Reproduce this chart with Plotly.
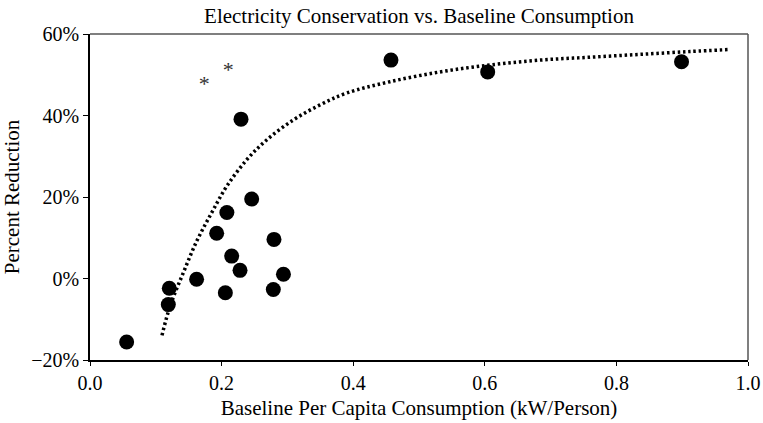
import plotly.graph_objects as go

# Observed data points (baseline kW/person, % reduction)
x_pts = [0.0557, 0.1205, 0.119, 0.162, 0.1925, 0.208, 0.2153, 0.228, 0.2057,
         0.2796, 0.2786, 0.294, 0.2295, 0.2457, 0.4574, 0.6044, 0.899]
y_pts = [-15.6, -2.4, -6.4, -0.2, 11.1, 16.2, 5.5, 2.0, -3.5,
         9.6, -2.7, 1.05, 39.1, 19.5, 53.6, 50.7, 53.2]

# Asterisk points
x_ast = [0.1737, 0.2102]
y_ast = [47.4, 50.7]

# Trend line points
x_trend = [0.1094, 0.1216, 0.1418, 0.162, 0.1848, 0.2077, 0.238, 0.2685, 0.309,
           0.3495, 0.39, 0.456, 0.532, 0.608, 0.684, 0.76, 0.836, 0.912, 0.973]
y_trend = [-13.95, -6.8, 1.4, 9.1, 16.1, 22.6, 29.1, 34.0, 38.9,
           42.6, 45.5, 48.3, 50.7, 52.4, 53.6, 54.3, 55.0, 55.7, 56.2]

x_ticks = [0.0, 0.2, 0.4, 0.6, 0.8, 1.0]
x_tick_labels = ["0.0", "0.2", "0.4", "0.6", "0.8", "1.0"]
y_ticks = [-20, 0, 20, 40, 60]
y_tick_labels = ["\u221220%", "0%", "20%", "40%", "60%"]

font_family = "Liberation Serif, Times New Roman, serif"

fig = go.Figure()
fig.add_trace(go.Scatter(
    x=x_trend, y=y_trend, mode="lines", line_shape="spline",
    line=dict(color="black", width=3.5, dash="2.5px,2.8px"),
    hoverinfo="skip", showlegend=False))
fig.add_trace(go.Scatter(
    x=x_pts, y=y_pts, mode="markers",
    marker=dict(color="black", size=15, line=dict(width=0)),
    showlegend=False))
fig.add_trace(go.Scatter(
    x=x_ast, y=y_ast, mode="text", text=["*"] * len(x_ast),
    textposition="middle center",
    textfont=dict(family=font_family, size=22, color="#333"),
    showlegend=False))

fig.update_layout(
    width=763, height=423,
    margin=dict(l=90, r=15, t=34, b=63, autoexpand=False),
    paper_bgcolor="white", plot_bgcolor="white",
    font=dict(family=font_family, color="black", size=20),
    title=dict(text="Electricity Conservation vs. Baseline Consumption",
               xref="paper", x=0.5, xanchor="center", y=0.962, yanchor="middle",
               font=dict(size=21, family=font_family, color="black")),
    xaxis=dict(range=[0, 1.0], tickvals=x_ticks, ticktext=x_tick_labels,
               showgrid=False, zeroline=False, showline=True, linecolor="black",
               linewidth=1.5, ticks="outside", ticklen=4, tickcolor="black",
               automargin=False,
               title=dict(text="Baseline Per Capita Consumption (kW/Person)",
                          font=dict(size=21), standoff=8),
               tickfont=dict(size=20)),
    yaxis=dict(range=[-20, 60], tickvals=y_ticks, ticktext=y_tick_labels,
               showgrid=False, zeroline=False, showline=True, linecolor="black",
               linewidth=1.5, ticks="outside", ticklen=5, tickcolor="black",
               automargin=False,
               title=dict(text="Percent Reduction", font=dict(size=21), standoff=6),
               tickfont=dict(size=20)),
    shapes=[
        dict(type="line", xref="paper", yref="paper", x0=0, x1=1, y0=1, y1=1,
             line=dict(color="#555", width=1.5)),
        dict(type="line", xref="paper", yref="paper", x0=1, x1=1, y0=0, y1=1,
             line=dict(color="#555", width=1.5)),
    ],
)

fig.write_html(
    "out.html",
    config={"displayModeBar": False},
    post_script=("document.body.style.margin='0';"
                 "document.body.style.overflow='hidden';"
                 "document.documentElement.style.overflow='hidden';"))
